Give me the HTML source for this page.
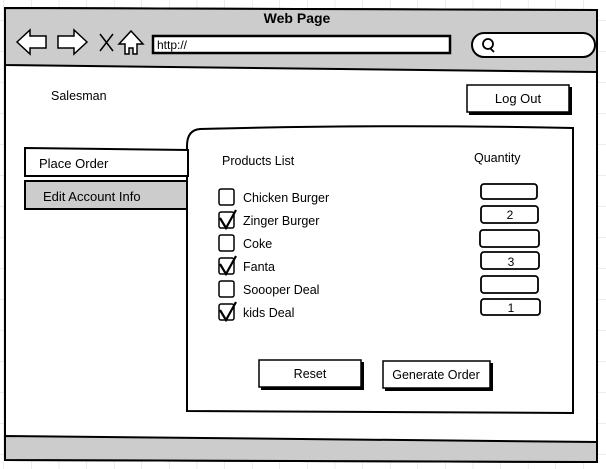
<!DOCTYPE html>
<html><head><meta charset="utf-8"><style>
html,body{margin:0;padding:0;background:#fff;}
svg{display:block;}
text{font-family:"Liberation Sans",sans-serif;fill:#000;}
</style></head><body>
<svg width="606" height="469" viewBox="0 0 606 469" xmlns="http://www.w3.org/2000/svg">
<defs>
<pattern id="g" width="27.6" height="31" patternUnits="userSpaceOnUse" x="4" y="-10">
<path d="M27.6 0V31M0 31H27.6" stroke="#d8d8d8" stroke-width="1" fill="none"/>
</pattern>
</defs>
<rect width="606" height="469" fill="url(#g)"/>
<!-- frame -->
<path d="M5 8 L597 10 L597 462 L5 460 Z" fill="#fff" stroke="#000" stroke-width="2"/>
<path d="M5 8 L597 10 L597 72 L5 65 Z" fill="#ccc" stroke="#000" stroke-width="2"/>
<path d="M5 436 L597 442 L597 462 L5 460 Z" fill="#ccc" stroke="#000" stroke-width="2"/>
<text x="297" y="23" font-size="14" font-weight="bold" text-anchor="middle">Web Page</text>
<!-- nav icons -->
<path d="M17 42 L30 30 L30 36 L46 36 L46 48 L30 48 L30 54 Z" fill="#fff" stroke="#000" stroke-width="1.5"/>
<path d="M87 42 L74 30 L74 36 L58 36 L58 48 L74 48 L74 54 Z" fill="#fff" stroke="#000" stroke-width="1.5"/>
<path d="M100 34 L113 51 M113 34 L100 51" stroke="#000" stroke-width="1.5"/>
<path d="M119 44 L131 31 L143 44 L137 44 L137 54 L133 54 L133 48 L129 48 L129 54 L125 54 L125 44 Z" fill="#fff" stroke="#000" stroke-width="1.5"/>
<rect x="153" y="36" width="297" height="17" fill="#fff" stroke="#000" stroke-width="2.5"/>
<text x="157" y="49" font-size="12">http://</text>
<rect x="472" y="33" width="123" height="24" rx="12" fill="#fff" stroke="#000" stroke-width="2"/>
<circle cx="488" cy="44" r="5" fill="none" stroke="#000" stroke-width="1.8"/>
<path d="M490 48 L494 52" stroke="#000" stroke-width="1.8"/>
<!-- salesman / logout -->
<text x="51" y="100" font-size="12.5">Salesman</text>
<rect x="469" y="87" width="103" height="28" fill="#000"/>
<rect x="467" y="85" width="102" height="27" fill="#fff" stroke="#000" stroke-width="1.5"/>
<text x="518" y="103" font-size="13" text-anchor="middle">Log Out</text>
<!-- main panel -->
<path d="M187 146 Q187 130 200 129 Q380 124 573 128 L573 413 L187 411 Z" fill="#fff" stroke="#000" stroke-width="2"/>
<!-- tabs -->
<path d="M25 148 L188 150 L188 176 L25 176 Z" fill="#fff" stroke="#000" stroke-width="2"/>
<rect x="25" y="181" width="162" height="28" fill="#ccc" stroke="#000" stroke-width="2"/>
<text x="39" y="168" font-size="13">Place Order</text>
<text x="43" y="201" font-size="13">Edit Account Info</text>
<!-- list -->
<text x="222" y="165" font-size="12.5">Products List</text>
<text x="474" y="162" font-size="12.5">Quantity</text>
<g font-size="12.5">
<text x="243" y="202">Chicken Burger</text>
<text x="243" y="225">Zinger Burger</text>
<text x="243" y="248">Coke</text>
<text x="243" y="271">Fanta</text>
<text x="243" y="294">Soooper Deal</text>
<text x="243" y="317">kids Deal</text>
</g>
<g fill="#fff" stroke="#000" stroke-width="1.5">
<rect x="219" y="189" width="15" height="16" rx="2"/>
<rect x="219" y="212" width="15" height="16" rx="2"/>
<rect x="219" y="235" width="15" height="16" rx="2"/>
<rect x="219" y="258" width="15" height="16" rx="2"/>
<rect x="219" y="281" width="15" height="16" rx="2"/>
<rect x="219" y="304" width="15" height="16" rx="2"/>
</g>
<g fill="none" stroke="#000" stroke-width="2.2">
<path d="M220 218 L226 228 L236 210"/>
<path d="M220 264 L226 274 L236 256"/>
<path d="M220 310 L226 320 L236 302"/>
</g>
<!-- qty boxes -->
<g fill="#fff" stroke="#000" stroke-width="1.8">
<rect x="481" y="184" width="56" height="15" rx="3"/>
<rect x="481" y="206" width="57" height="17" rx="3"/>
<rect x="480" y="230" width="59" height="17" rx="3"/>
<rect x="481" y="252" width="58" height="17" rx="3"/>
<rect x="481" y="276" width="57" height="17" rx="3"/>
<rect x="481" y="299" width="59" height="16" rx="3"/>
</g>
<g font-size="12" text-anchor="middle">
<text x="510" y="219">2</text>
<text x="511" y="266">3</text>
<text x="511" y="312">1</text>
</g>
<!-- buttons -->
<rect x="261" y="362" width="103" height="28" fill="#000"/>
<rect x="259" y="360" width="102" height="27" fill="#fff" stroke="#000" stroke-width="1.5"/>
<text x="310" y="378" font-size="12.5" text-anchor="middle">Reset</text>
<rect x="385" y="363" width="108" height="28" fill="#000"/>
<rect x="383" y="361" width="107" height="27" fill="#fff" stroke="#000" stroke-width="1.5"/>
<text x="436" y="379" font-size="12.5" text-anchor="middle">Generate Order</text>
</svg>
</body></html>
